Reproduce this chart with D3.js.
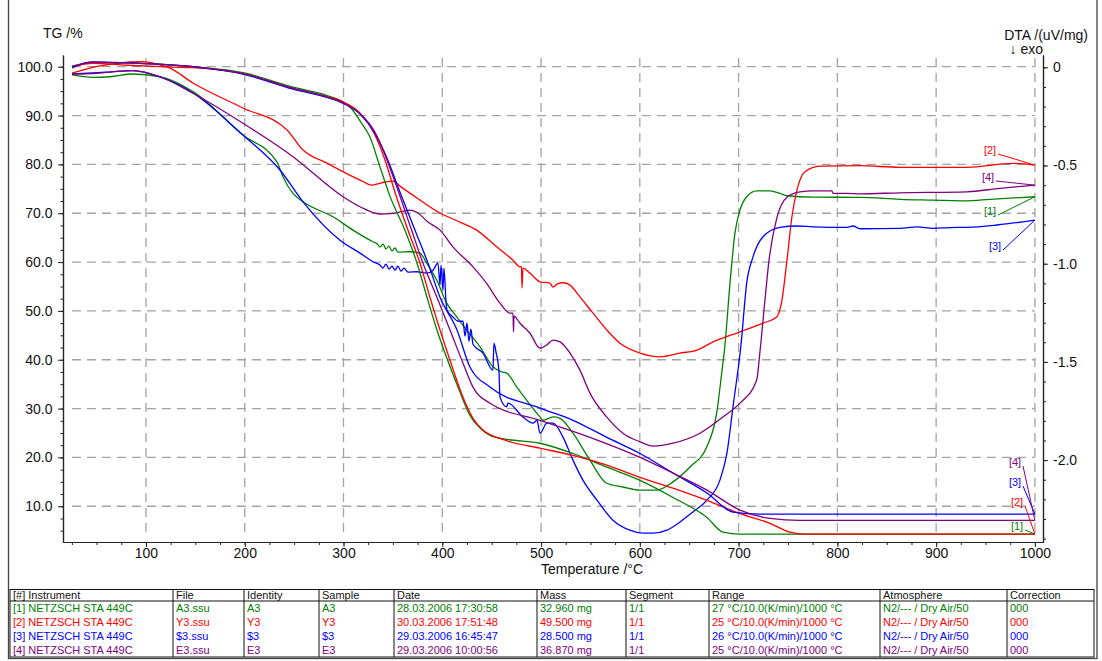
<!DOCTYPE html>
<html>
<head>
<meta charset="utf-8">
<script src="https://cdn.jsdelivr.net/npm/d3@7"></script>
<style>
  body { margin: 0; background: #fff; }
  svg { display: block; font-family: "Liberation Sans", Arial, sans-serif; }
</style>
</head>
<body>
<svg id="chart" width="1102" height="661"></svg>
<script>
// ---- Thermal analysis data: temperature (°C) vs. TG (%) and DTA (uV/mg) ----
const seriesNames = ["[1]", "[2]", "[3]", "[4]"];
const seriesColors = ["#008000", "#ff0000", "#0000ff", "#800080"];

// TG curves [T, mass %]
const tgA3 = [[25.1,99.7],[43.3,100.9],[83.8,100.8],[147.6,100.0],[198.2,98.8],[248.8,95.8],[283.3,94.1],[299.5,92.8],[308.6,91.3],[316.7,88.9],[326.8,85.6],[336.9,79.5],[347.0,73.5],[362.2,66.5],[374.4,59.8],[384.5,52.8],[394.6,46.1],[404.7,40.3],[417.9,33.4],[428.0,28.6],[438.2,26.0],[448.3,24.5],[465.5,23.7],[498.9,22.9],[532.3,20.8],[566.7,18.0],[600.2,15.3],[633.6,11.8],[668.0,7.7],[684.2,4.7],[701.4,4.3],[1000,4.3]];
const tgY3 = [[25.1,100.0],[46.3,100.7],[80.8,100.3],[114.2,100.0],[147.6,99.8],[198.2,98.6],[248.8,95.6],[283.3,93.9],[299.5,92.8],[316.7,90.5],[331.8,86.0],[342.0,80.9],[352.1,74.3],[365.3,66.5],[377.4,59.8],[387.5,52.8],[397.7,46.1],[407.8,39.9],[421.0,32.3],[431.1,28.0],[441.2,25.6],[465.5,23.4],[498.9,21.9],[532.3,20.4],[566.7,18.4],[600.2,15.9],[633.6,13.7],[668.0,11.2],[701.4,8.5],[731.8,6.5],[752.0,4.7],[767.2,4.3],[1000,4.3]];
const tgS3 = [[25.1,99.9],[46.3,101.0],[80.8,100.8],[147.6,100.0],[198.2,98.5],[248.8,95.4],[283.3,93.7],[299.5,92.5],[316.7,90.3],[331.8,86.4],[344.0,81.3],[357.2,74.3],[372.4,66.5],[385.5,59.8],[397.7,52.8],[414.9,46.1],[428.0,38.5],[448.3,34.4],[498.9,30.1],[532.3,27.6],[566.7,24.1],[600.2,20.8],[633.6,16.8],[668.0,12.7],[694.3,8.8],[721.6,8.4],[1000,8.4]];
const tgE3 = [[25.1,100.1],[46.3,100.9],[80.8,100.8],[147.6,100.0],[198.2,98.6],[248.8,95.6],[283.3,93.8],[299.5,92.6],[316.7,90.4],[331.8,86.6],[342.0,81.9],[355.1,74.7],[369.0,66.5],[380.4,59.8],[394.6,52.8],[407.8,46.1],[421.0,39.3],[431.1,34.4],[448.3,31.1],[498.9,27.6],[549.5,24.1],[600.2,20.0],[633.6,16.8],[668.0,13.3],[701.4,9.2],[731.8,7.5],[762.1,7.1],[1000,7.1]];

// DTA curves [T, uV/mg]
const dtaA3 = [[25.1,-0.039],[46.3,-0.051],[63.6,-0.048],[86.8,-0.034],[114.2,-0.048],[147.6,-0.124],[198.2,-0.345],[232.6,-0.481],[238.7,-0.557],[248.8,-0.642],[259.0,-0.685],[289.3,-0.761],[309.6,-0.829],[329.8,-0.888],[333.9,-0.898],[336.9,-0.915],[340.0,-0.900],[343.0,-0.925],[346.0,-0.910],[349.1,-0.935],[352.1,-0.920],[355.1,-0.941],[367.3,-0.939],[377.4,-0.946],[384.2,-0.997],[394.3,-1.083],[404.5,-1.201],[414.6,-1.271],[424.6,-1.338],[438.2,-1.423],[451.3,-1.525],[460.1,-1.551],[465.2,-1.557],[475.3,-1.627],[485.4,-1.695],[498.9,-1.780],[501.9,-1.797],[512.1,-1.780],[519.2,-1.787],[532.3,-1.863],[549.5,-2.000],[566.4,-2.118],[582.9,-2.137],[600.2,-2.153],[617.1,-2.153],[633.6,-2.111],[650.8,-2.035],[667.7,-1.933],[677.8,-1.761],[682.9,-1.557],[686.2,-1.414],[691.3,-1.099],[696.3,-0.844],[701.4,-0.727],[708.2,-0.659],[718.3,-0.629],[731.8,-0.629],[741.9,-0.642],[748.7,-0.654],[775.3,-0.661],[822.9,-0.662],[863.4,-0.672],[896.8,-0.676],[931.2,-0.680],[954.5,-0.672],[1000,-0.659]];
const dtaY3 = [[25.1,-0.029],[53.4,0.007],[83.8,0.027],[97.0,0.029],[114.2,0.012],[124.3,-0.004],[147.6,-0.080],[198.2,-0.207],[242.8,-0.319],[259.0,-0.421],[283.3,-0.488],[316.7,-0.574],[328.8,-0.600],[342.0,-0.584],[350.1,-0.579],[357.2,-0.605],[377.4,-0.676],[397.7,-0.742],[417.9,-0.788],[434.8,-0.829],[455.1,-0.914],[471.6,-0.982],[478.7,-1.016],[480.2,-1.015],[480.7,-1.124],[481.7,-1.022],[488.8,-1.048],[498.9,-1.092],[509.0,-1.099],[512.1,-1.119],[516.1,-1.104],[522.2,-1.097],[529.3,-1.109],[539.4,-1.169],[552.6,-1.252],[566.7,-1.338],[579.9,-1.405],[600.2,-1.455],[620.4,-1.474],[640.7,-1.455],[657.9,-1.440],[674.1,-1.398],[701.4,-1.347],[724.7,-1.303],[738.6,-1.271],[743.9,-1.185],[749.0,-0.982],[754.0,-0.761],[759.1,-0.625],[767.2,-0.532],[782.4,-0.503],[822.9,-0.501],[863.4,-0.509],[931.2,-0.509],[977.8,-0.489],[1000,-0.498]];
const dtaS3 = [[25.1,-0.034],[46.3,-0.029],[63.6,-0.024],[86.8,-0.017],[114.2,-0.049],[147.6,-0.131],[198.2,-0.345],[235.7,-0.523],[259.0,-0.685],[296.4,-0.880],[316.7,-0.946],[329.8,-0.990],[336.9,-1.007],[339.9,-1.022],[343.0,-1.002],[346.0,-1.027],[349.1,-1.012],[352.1,-1.033],[355.1,-1.012],[358.2,-1.038],[361.2,-1.022],[365.3,-1.043],[374.1,-1.041],[384.2,-1.048],[390.6,-1.033],[395.6,-0.997],[397.7,-1.109],[398.7,-1.007],[400.7,-1.134],[401.7,-1.022],[403.7,-1.185],[404.7,-1.236],[410.8,-1.271],[416.0,-1.293],[421.0,-1.293],[423.0,-1.369],[425.0,-1.303],[427.0,-1.395],[429.0,-1.333],[431.1,-1.410],[441.2,-1.455],[451.3,-1.542],[452.3,-1.405],[454.4,-1.450],[457.4,-1.551],[458.4,-1.678],[465.2,-1.729],[466.5,-1.710],[481.7,-1.781],[491.8,-1.812],[495.9,-1.797],[498.9,-1.863],[506.0,-1.812],[512.1,-1.812],[522.2,-1.883],[532.3,-2.000],[542.4,-2.102],[556.6,-2.204],[572.8,-2.306],[590.0,-2.357],[603.2,-2.372],[613.3,-2.372],[627.5,-2.357],[640.7,-2.315],[653.8,-2.264],[668.0,-2.204],[681.1,-2.102],[688.2,-1.965],[694.3,-1.730],[702.4,-1.415],[708.2,-1.099],[714.6,-0.965],[724.7,-0.863],[741.9,-0.815],[759.1,-0.808],[775.3,-0.812],[809.7,-0.815],[815.8,-0.808],[822.9,-0.822],[863.4,-0.820],[880.6,-0.812],[896.8,-0.820],[914.0,-0.816],[931.2,-0.815],[961.6,-0.803],[1000,-0.778]];
const dtaE3 = [[25.1,-0.034],[46.3,-0.032],[63.6,-0.024],[86.8,-0.017],[114.2,-0.048],[147.6,-0.132],[198.2,-0.285],[248.8,-0.455],[299.5,-0.659],[316.7,-0.710],[336.9,-0.747],[352.1,-0.742],[367.3,-0.727],[375.4,-0.742],[385.5,-0.788],[397.7,-0.829],[410.8,-0.914],[431.1,-1.016],[444.9,-1.100],[458.4,-1.201],[468.5,-1.252],[471.6,-1.252],[472.1,-1.347],[472.6,-1.267],[478.7,-1.303],[488.8,-1.354],[498.9,-1.430],[505.7,-1.414],[512.1,-1.389],[519.2,-1.398],[529.3,-1.455],[539.4,-1.542],[549.5,-1.659],[566.4,-1.780],[582.9,-1.863],[600.2,-1.907],[613.3,-1.929],[633.6,-1.914],[660.9,-1.863],[684.2,-1.780],[701.4,-1.710],[718.3,-1.593],[721.6,-1.450],[726.7,-1.185],[730.8,-0.982],[738.9,-0.763],[749.0,-0.661],[762.1,-0.634],[775.3,-0.629],[794.5,-0.629],[795.6,-0.642],[809.7,-0.642],[822.9,-0.644],[863.4,-0.639],[931.2,-0.634],[964.6,-0.616],[1000,-0.600]];

// Axis ticks
const tempTicks = [100, 200, 300, 400, 500, 600, 700, 800, 900, 1000];
const tgTicks = [10, 20, 30, 40, 50, 60, 70, 80, 90, 100];
const dtaTicks = [0, -0.5, -1.0, -1.5, -2.0];

// Measurement table
const tableHeaders = ["[#] Instrument", "File", "Identity", "Sample", "Date", "Mass", "Segment", "Range", "Atmosphere", "Correction"];
const tableRows = [
  ["[1] NETZSCH STA 449C", "A3.ssu", "A3", "A3", "28.03.2006 17:30:58", "32.960 mg", "1/1", "27 °C/10.0(K/min)/1000 °C", "N2/--- / Dry Air/50", "000"],
  ["[2] NETZSCH STA 449C", "Y3.ssu", "Y3", "Y3", "30.03.2006 17:51:48", "49.500 mg", "1/1", "25 °C/10.0(K/min)/1000 °C", "N2/--- / Dry Air/50", "000"],
  ["[3] NETZSCH STA 449C", "$3.ssu", "$3", "$3", "29.03.2006 16:45:47", "28.500 mg", "1/1", "26 °C/10.0(K/min)/1000 °C", "N2/--- / Dry Air/50", "000"],
  ["[4] NETZSCH STA 449C", "E3.ssu", "E3", "E3", "29.03.2006 10:00:56", "36.870 mg", "1/1", "25 °C/10.0(K/min)/1000 °C", "N2/--- / Dry Air/50", "000"]
];

// ---- Layout ----
const svg = d3.select("#chart");
const L = 63, R = 1043, T = 55, B = 542;

const x = d3.scaleLinear().domain([16, 1008.2]).range([L, R]);
const yTG = d3.scaleLinear().domain([2.68, 102.4]).range([B, T]);
const yDTA = d3.scaleLinear().domain([-2.417, 0.0627]).range([B, T]);

// outer frame
svg.append("rect").attr("x", 8.5).attr("y", -2).attr("width", 1088.5).attr("height", 660.5)
  .attr("fill", "none").attr("stroke", "#444").attr("stroke-width", 1.3);

// dashed grid
const grid = svg.append("g").attr("stroke", "#a3a3a3").attr("stroke-width", 1.3)
  .attr("stroke-dasharray", "9,6");
grid.selectAll("line.h").data(tgTicks).join("line").attr("class", "h")
  .attr("x1", x(25)).attr("x2", x(1000)).attr("y1", d => yTG(d)).attr("y2", d => yTG(d));
grid.selectAll("line.v").data(tempTicks).join("line").attr("class", "v")
  .attr("x1", d => x(d)).attr("x2", d => x(d)).attr("y1", yTG(101.8)).attr("y2", yTG(4.2));

// axes
const axisColor = "#222";
function styleAxis(g, fs) {
  g.select(".domain").attr("stroke", axisColor).attr("stroke-width", 1.2);
  g.selectAll(".tick line").attr("stroke", axisColor);
  g.selectAll(".tick text").attr("fill", "#111").style("font-size", fs + "px")
    .style("font-family", '"Liberation Sans", Arial, sans-serif');
}

const minorTG = d3.range(5, 102.5, 2.5);
const minorT = d3.range(25, 1001, 25);
const minorDTA = d3.range(0, -2.45, -0.1);

svg.append("g").attr("transform", `translate(${L},0)`)
  .call(d3.axisLeft(yTG).tickValues(minorTG).tickFormat("").tickSize(2.5).tickSizeOuter(0))
  .call(g => styleAxis(g, 14));
svg.append("g").attr("transform", `translate(${L},0)`)
  .call(d3.axisLeft(yTG).tickValues(tgTicks).tickFormat(d => d.toFixed(1)).tickSize(5).tickPadding(5.5).tickSizeOuter(0))
  .call(g => styleAxis(g, 14));

svg.append("g").attr("transform", `translate(0,${B})`)
  .call(d3.axisBottom(x).tickValues(minorT).tickFormat("").tickSize(3).tickSizeOuter(0))
  .call(g => styleAxis(g, 14));
svg.append("g").attr("transform", `translate(0,${B})`)
  .call(d3.axisBottom(x).tickValues(tempTicks).tickFormat(d3.format("d")).tickSize(5).tickPadding(1.5).tickSizeOuter(0))
  .call(g => styleAxis(g, 14));

svg.append("g").attr("transform", `translate(${R},0)`)
  .call(d3.axisRight(yDTA).tickValues(minorDTA).tickFormat("").tickSize(3).tickSizeOuter(0))
  .call(g => styleAxis(g, 14));
svg.append("g").attr("transform", `translate(${R},0)`)
  .call(d3.axisRight(yDTA).tickValues(dtaTicks).tickFormat(d => d === 0 ? "0" : d.toFixed(1)).tickSize(5).tickPadding(5).tickSizeOuter(0))
  .call(g => styleAxis(g, 14));

// axis titles
svg.append("text").attr("x", 43).attr("y", 38).attr("font-size", 14).attr("fill", "#111").text("TG /%");
svg.append("text").attr("x", 1088).attr("y", 40).attr("font-size", 14).attr("fill", "#111")
  .attr("text-anchor", "end").text("DTA /(uV/mg)");
svg.append("text").attr("x", 1043).attr("y", 54).attr("font-size", 14).attr("fill", "#111")
  .attr("text-anchor", "end").text("↓ exo");
svg.append("text").attr("x", 592).attr("y", 574).attr("font-size", 14).attr("fill", "#111")
  .attr("text-anchor", "middle").text("Temperature /°C");

// curves
const lineTG = d3.line().x(d => x(d[0])).y(d => yTG(d[1])).curve(d3.curveMonotoneX);
const lineDTA = d3.line().x(d => x(d[0])).y(d => yDTA(d[1])).curve(d3.curveMonotoneX);
const tgSets = [tgA3, tgY3, tgS3, tgE3];
const dtaSets = [dtaA3, dtaY3, dtaS3, dtaE3];
const plot = svg.append("g").attr("fill", "none").attr("stroke-width", 1.3);
dtaSets.forEach((d, i) => plot.append("path").attr("d", lineDTA(d)).attr("stroke", seriesColors[i]));
tgSets.forEach((d, i) => plot.append("path").attr("d", lineTG(d)).attr("stroke", seriesColors[i]));

// end-of-curve labels with leader lines
const dtaLabelPos = [[990, 211], [990, 150], [995, 246], [988, 177]];
const tgLabelPos = [[1017, 526], [1017, 502], [1015, 482], [1015, 462]];
const labels = svg.append("g").attr("font-size", 11);
function endLabel(set, yScale, pos, i) {
  const last = set[set.length - 1];
  const ex = x(last[0]), ey = yScale(last[1]);
  labels.append("line").attr("x1", pos[0] + 8).attr("y1", pos[1] + 4).attr("x2", ex).attr("y2", ey)
    .attr("stroke", seriesColors[i]).attr("stroke-width", 1);
  labels.append("text").attr("x", pos[0]).attr("y", pos[1]).attr("text-anchor", "middle")
    .attr("dy", "0.35em").attr("fill", seriesColors[i]).text(seriesNames[i]);
}
dtaSets.forEach((s, i) => endLabel(s, yDTA, dtaLabelPos[i], i));
tgSets.forEach((s, i) => endLabel(s, yTG, tgLabelPos[i], i));

// measurement table
const colX = [10, 173, 244, 319, 394, 537, 626, 709, 880, 1007, 1094];
const tTop = 589.5, tHead = 601, rowH = 14, tBottom = 657;
const tbl = svg.append("g").attr("font-size", 11);
tbl.append("rect").attr("x", colX[0]).attr("y", tTop).attr("width", colX[10] - colX[0])
  .attr("height", tBottom - tTop).attr("fill", "none").attr("stroke", "#111").attr("stroke-width", 1);
tbl.append("line").attr("x1", colX[0]).attr("x2", colX[10]).attr("y1", tHead).attr("y2", tHead)
  .attr("stroke", "#111");
tbl.selectAll("line.col").data(colX.slice(1, 10)).join("line").attr("class", "col")
  .attr("x1", d => d).attr("x2", d => d).attr("y1", tTop).attr("y2", tBottom).attr("stroke", "#111");
tbl.selectAll("text.hd").data(tableHeaders).join("text").attr("class", "hd")
  .attr("x", (d, i) => colX[i] + 3).attr("y", tHead - 2.5).attr("fill", "#111").text(d => d);
tableRows.forEach((row, r) => {
  tbl.selectAll(null).data(row).join("text")
    .attr("x", (d, i) => colX[i] + 3).attr("y", tHead + 10.5 + r * rowH)
    .attr("fill", seriesColors[r]).text(d => d);
});
</script>
</body>
</html>
